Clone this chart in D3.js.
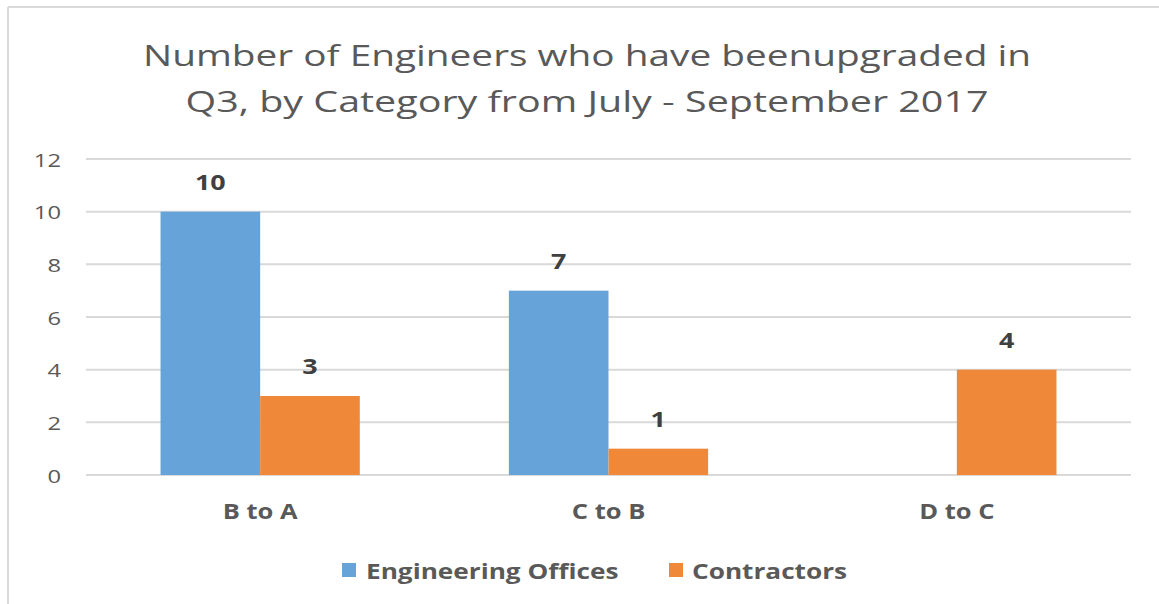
<!DOCTYPE html>
<html><head><meta charset="utf-8">
<script src="https://cdn.jsdelivr.net/npm/d3@7/dist/d3.min.js"></script>
<style>
html,body{margin:0;padding:0;background:#fff;}
svg{display:block;font-family:"Open Sans","Liberation Sans",sans-serif;}
</style></head>
<body>
<svg id="chart" width="1159" height="604"></svg>
<script>
const titleLines = ["Number of Engineers who have beenupgraded in", "Q3, by Category from July - September 2017"];
const categories = ["B to A", "C to B", "D to C"];
const seriesNames = ["Engineering Offices", "Contractors"];
const engineeringOffices = [10, 7, 0];
const contractors = [3, 1, 4];
const yTicks = [0, 2, 4, 6, 8, 10, 12];
const colors = ["#65a3d9", "#ef8839"];

const svg = d3.select("#chart");
const W = 1159, H = 604;
const textColor = "#595959";

// horizontally widen text to mimic the reference's wide rendering
function stretch(sel, factor) {
  sel.each(function() {
    const w = this.getComputedTextLength();
    d3.select(this).attr("textLength", w * factor).attr("lengthAdjust", "spacingAndGlyphs");
  });
}

// frame
svg.append("line").attr("x1", 8).attr("x2", W).attr("y1", 7).attr("y2", 7).attr("stroke", "#d9d9d9").attr("stroke-width", 2);
svg.append("line").attr("x1", 8).attr("x2", 8).attr("y1", 7).attr("y2", H).attr("stroke", "#d9d9d9").attr("stroke-width", 2);

const margin = {left: 86, right: 1131, top: 159, bottom: 475};
const x = d3.scaleBand().domain(categories).range([margin.left, margin.right]).paddingInner(0.428).paddingOuter(0.214);
const x1 = d3.scaleBand().domain(seriesNames).range([0, x.bandwidth()]);
const y = d3.scaleLinear().domain([0, 12]).range([margin.bottom, margin.top]);

// gridlines
svg.append("g").selectAll("line").data(yTicks).join("line")
  .attr("x1", margin.left).attr("x2", margin.right)
  .attr("y1", d => y(d)).attr("y2", d => y(d))
  .attr("stroke", "#d9d9d9").attr("stroke-width", 2);

// y axis labels
const yAxis = d3.axisLeft(y).tickValues(yTicks).tickSize(0).tickPadding(0);
const yg = svg.append("g").attr("transform", `translate(61,0)`).call(yAxis);
yg.select(".domain").remove();
yg.selectAll("text").attr("font-size", 19).attr("fill", textColor)
  .attr("font-family", "'Open Sans', sans-serif").attr("dy", "0.37em");
stretch(yg.selectAll("text"), 1.25);

// x axis labels
const xAxis = d3.axisBottom(x).tickSize(0).tickPadding(0);
const xg = svg.append("g").attr("transform", `translate(0,519)`).call(xAxis);
xg.select(".domain").remove();
xg.selectAll("text").attr("dy", 0).attr("font-size", 22).attr("font-weight", "bold").attr("fill", textColor)
  .attr("font-family", "'Open Sans', sans-serif");
stretch(xg.selectAll("text"), 1.16);

// bars
const seriesData = [engineeringOffices, contractors];
const data = [];
categories.forEach((c, i) => seriesNames.forEach((s, j) => data.push({c, s, j, v: seriesData[j][i]})));
const groups = svg.append("g");
groups.selectAll("rect").data(data.filter(d => d.v > 0)).join("rect")
  .attr("x", d => x(d.c) + x1(d.s))
  .attr("width", x1.bandwidth())
  .attr("y", d => y(d.v))
  .attr("height", d => y(0) - y(d.v))
  .attr("fill", d => colors[d.j]);

// data labels
const labels = groups.selectAll("text").data(data.filter(d => d.v > 0)).join("text")
  .attr("x", d => x(d.c) + x1(d.s) + x1.bandwidth() / 2)
  .attr("y", d => y(d.v) - 22)
  .attr("text-anchor", "middle")
  .attr("font-size", 22).attr("font-weight", "bold").attr("fill", "#404040")
  .text(d => d.v);
stretch(labels, 1.22);

// title
const title = svg.append("g");
const titleY = [66, 112];
const titleW = [888, 803];
titleLines.forEach((t, i) => {
  title.append("text").attr("x", 587).attr("y", titleY[i]).attr("text-anchor", "middle")
    .attr("font-size", 30).attr("fill", textColor).attr("font-family", "'Open Sans', sans-serif")
    .attr("textLength", titleW[i]).attr("lengthAdjust", "spacingAndGlyphs").text(t);
});

// legend
const legendItems = [{name: seriesNames[0], x: 342, tx: 366}, {name: seriesNames[1], x: 669, tx: 692}];
const lg = svg.append("g");
legendItems.forEach((d, i) => {
  lg.append("rect").attr("x", d.x).attr("y", 563).attr("width", 14).attr("height", 14).attr("fill", colors[i]);
  lg.append("text").attr("x", d.tx).attr("y", 579).attr("font-size", 22).attr("font-weight", "bold").attr("fill", textColor).text(d.name);
});
stretch(lg.selectAll("text"), 1.19);
</script>
</body></html>
